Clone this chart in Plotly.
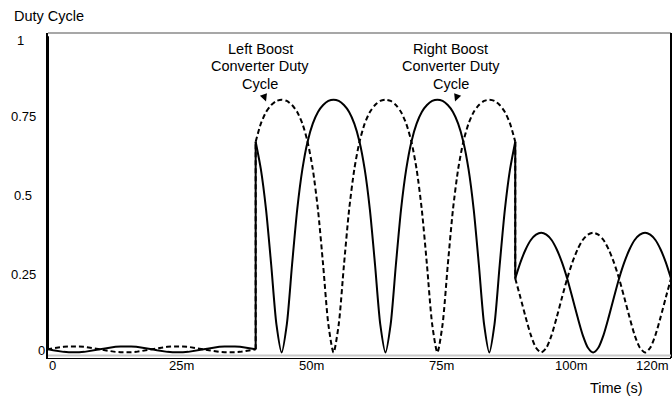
import plotly.graph_objects as go

# ---------------- data (time in ms, duty cycle 0..1) ----------------
startup_time_ms = [0]
startup_level = [1.0]

ripple_time_ms = list(range(0, 41))
right_ripple = [0.010, 0.007, 0.004, 0.002, 0.001, 0.000, 0.001, 0.002, 0.004, 0.007,
                0.010, 0.013, 0.016, 0.018, 0.019, 0.020, 0.019, 0.018, 0.016, 0.013,
                0.010, 0.007, 0.004, 0.002, 0.001, 0.000, 0.001, 0.002, 0.004, 0.007,
                0.010, 0.013, 0.016, 0.018, 0.019, 0.020, 0.019, 0.018, 0.016, 0.013,
                0.010]
left_ripple = [0.010, 0.013, 0.016, 0.018, 0.019, 0.020, 0.019, 0.018, 0.016, 0.013,
               0.010, 0.007, 0.004, 0.002, 0.001, 0.000, 0.001, 0.002, 0.004, 0.007,
               0.010, 0.013, 0.016, 0.018, 0.019, 0.020, 0.019, 0.018, 0.016, 0.013,
               0.010, 0.007, 0.004, 0.002, 0.001, 0.000, 0.001, 0.002, 0.004, 0.007,
               0.010]

full_time_ms = list(range(40, 91))
right_full = [0.667, 0.580, 0.452, 0.276, 0.089, 0.000, 0.089, 0.276, 0.452, 0.580,
              0.667, 0.724, 0.761, 0.783, 0.796, 0.800, 0.796, 0.783, 0.761, 0.724,
              0.667, 0.580, 0.452, 0.276, 0.089, 0.000, 0.089, 0.276, 0.452, 0.580,
              0.667, 0.724, 0.761, 0.783, 0.796, 0.800, 0.796, 0.783, 0.761, 0.724,
              0.667, 0.580, 0.452, 0.276, 0.089, 0.000, 0.089, 0.276, 0.452, 0.580,
              0.667]
left_full = [0.667, 0.724, 0.761, 0.783, 0.796, 0.800, 0.796, 0.783, 0.761, 0.724,
             0.667, 0.580, 0.452, 0.276, 0.089, 0.000, 0.089, 0.276, 0.452, 0.580,
             0.667, 0.724, 0.761, 0.783, 0.796, 0.800, 0.796, 0.783, 0.761, 0.724,
             0.667, 0.580, 0.452, 0.276, 0.089, 0.000, 0.089, 0.276, 0.452, 0.580,
             0.667, 0.724, 0.761, 0.783, 0.796, 0.800, 0.796, 0.783, 0.761, 0.724,
             0.667]

low_time_ms = list(range(90, 121))
right_low = [0.234, 0.285, 0.326, 0.356, 0.373, 0.379, 0.373, 0.356, 0.326, 0.285,
             0.234, 0.174, 0.112, 0.055, 0.015, 0.000, 0.015, 0.055, 0.112, 0.174,
             0.234, 0.285, 0.326, 0.356, 0.373, 0.379, 0.373, 0.356, 0.326, 0.285,
             0.234]
left_low = [0.234, 0.174, 0.112, 0.055, 0.015, 0.000, 0.015, 0.055, 0.112, 0.174,
            0.234, 0.285, 0.326, 0.356, 0.373, 0.379, 0.373, 0.356, 0.326, 0.285,
            0.234, 0.174, 0.112, 0.055, 0.015, 0.000, 0.015, 0.055, 0.112, 0.174,
            0.234]

x_tick_vals = [0, 25, 50, 75, 100, 120]
x_tick_text = ["0", "25m", "50m", "75m", "100m", "120m"]
y_tick_vals = [1, 0.75, 0.5, 0.25, 0]
y_tick_text = ["1", "0.75", "0.5", "0.25", "0"]

left_label_lines = ["Left Boost", "Converter Duty", "Cycle"]
right_label_lines = ["Right Boost", "Converter Duty", "Cycle"]
left_label_pos = (40.9, 0.960)     # (ms, duty) centre of first line
right_label_pos = (77.6, 0.960)
left_arrow_tip = (42.0, 0.794)
right_arrow_tip = (78.4, 0.794)

FONT = "Arial, Liberation Sans, sans-serif"
SOLID = dict(color="black", width=2)
DASHED = dict(color="black", width=2, dash="5px,3px")

fig = go.Figure()


def add_series(ripple, full, low, line):
    # start-up spike + small ripple (straight segments)
    fig.add_trace(go.Scatter(x=startup_time_ms + ripple_time_ms, y=startup_level + ripple,
                             mode="lines", line=line, hoverinfo="skip"))
    # smooth sections
    for t, v in ((full_time_ms, full), (low_time_ms, low)):
        fig.add_trace(go.Scatter(x=t, y=v, mode="lines",
                                 line=dict(line, shape="spline", smoothing=0.7),
                                 hoverinfo="skip"))
    # vertical steps between the sections
    fig.add_trace(go.Scatter(
        x=[ripple_time_ms[-1], full_time_ms[0], None, full_time_ms[-1], low_time_ms[0]],
        y=[ripple[-1], full[0], None, full[-1], low[0]],
        mode="lines", line=line, hoverinfo="skip"))


add_series(left_ripple, left_full, left_low, DASHED)
add_series(right_ripple, right_full, right_low, SOLID)

ann = []
# x tick labels
for v, t in zip(x_tick_vals, x_tick_text):
    last = v == x_tick_vals[-1]
    ann.append(dict(x=v, y=0, xref="x", yref="paper", text=t, showarrow=False,
                    xanchor="right" if last else "center", yanchor="middle",
                    xshift=0 if last else 4, yshift=-7,
                    font=dict(family=FONT, size=13, color="black")))
# y tick labels
y_label_dx = {"1": -27.5, "0": -6.5}
y_label_dy = {"1": -4.5, "0": 2.5}
for v, t in zip(y_tick_vals, y_tick_text):
    ann.append(dict(x=0, y=v, xref="x", yref="y", text=t, showarrow=False,
                    xanchor="center", yanchor="middle",
                    xshift=y_label_dx.get(t, -25), yshift=y_label_dy.get(t, -1),
                    font=dict(family=FONT, size=13, color="black")))
# axis titles
ann.append(dict(x=0, y=1, xref="paper", yref="paper", text="Duty Cycle",
                showarrow=False, xanchor="left", yanchor="middle", xshift=12 - 48, yshift=33 - 16,
                font=dict(family=FONT, size=14.5, color="black")))
ann.append(dict(x=1, y=0, xref="paper", yref="paper", text="Time (s)",
                showarrow=False, xanchor="left", yanchor="middle", xshift=590 - 673, yshift=-30,
                font=dict(family=FONT, size=14.5, color="black")))
# curve labels
for lines, (lx, ly) in ((left_label_lines, left_label_pos), (right_label_lines, right_label_pos)):
    for i, line in enumerate(lines):
        ann.append(dict(x=lx, y=ly, xref="x", yref="y", text=line, showarrow=False,
                        xanchor="center", yanchor="middle", yshift=-17.3 * i,
                        font=dict(family=FONT, size=14.5, color="black")))
# arrowheads
for (tx, ty), dx in ((left_arrow_tip, -3), (right_arrow_tip, 3)):
    ann.append(dict(x=tx, y=ty, xref="x", yref="y", text="", showarrow=True,
                    ax=dx, ay=-8, arrowhead=2, arrowsize=1.5, arrowwidth=1,
                    arrowcolor="black"))

shapes = [
    # top frame (grey)
    dict(type="line", xref="paper", yref="paper", x0=0, x1=1, y0=1, y1=1,
         line=dict(color="#8a8a8a", width=1.5)),
    # right frame (black)
    dict(type="line", xref="paper", yref="paper", x0=1, x1=1, y0=0, y1=1,
         line=dict(color="black", width=2)),
    # grey band just above the x axis line
    dict(type="line", xref="paper", yref="paper", x0=0, x1=1, y0=2.5, y1=2.5,
         ysizemode="pixel", yanchor=0, line=dict(color="#c8c8c8", width=2)),
]

fig.update_layout(
    width=672, height=399,
    margin=dict(l=48, r=1, t=33, b=41),
    paper_bgcolor="white", plot_bgcolor="white",
    showlegend=False,
    annotations=ann,
    shapes=shapes,
    xaxis=dict(range=[0, 120], showgrid=False, zeroline=False, showticklabels=False,
               ticks="", showline=True, linecolor="black", linewidth=1),
    yaxis=dict(range=[-0.0174, 1.011], showgrid=False, zeroline=False,
               showticklabels=False, ticks="", showline=True, linecolor="black",
               linewidth=2),
)

fig.write_html("out.html")
